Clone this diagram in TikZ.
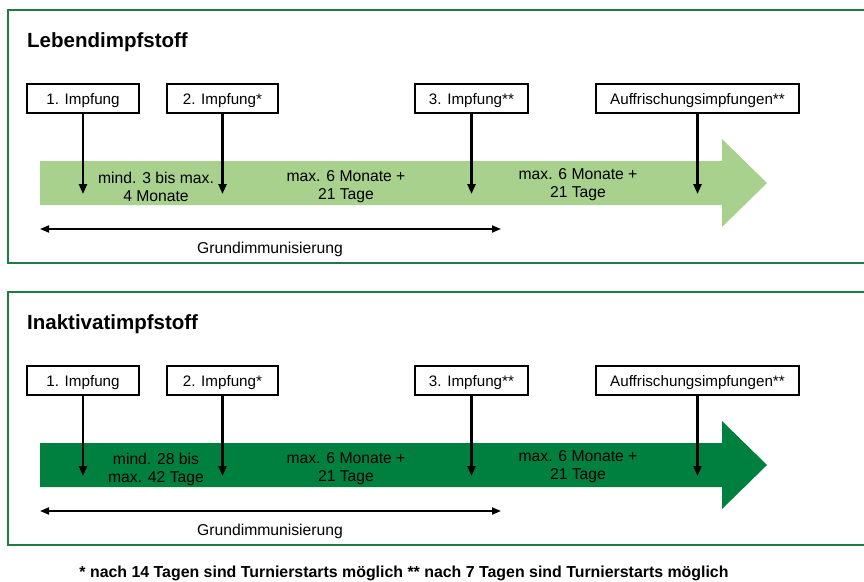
\documentclass[tikz,border=0pt]{standalone}
\usepackage{fontspec}
\setmainfont{Liberation Sans}
\usetikzlibrary{arrows.meta}
\definecolor{framegreen}{HTML}{1E7B45}
\definecolor{lightband}{HTML}{A9D18E}
\definecolor{darkband}{HTML}{00803F}

\begin{document}
\begin{tikzpicture}[x=1pt, y=1pt, font=\fontsize{15.7}{18}\selectfont,
  panel/.style={draw=framegreen, line width=2.2pt},
  title/.style={font=\fontsize{20.5}{24}\selectfont\bfseries, inner sep=0pt},
  dose/.style={draw, line width=2pt, fill=white, minimum height=29pt, inner sep=0pt, text height=11pt, text depth=0pt,
    font=\fontsize{15.2}{18}\selectfont},
  gap/.style={align=center, inner sep=0pt},
  hit/.style={-{Triangle[length=10pt,width=8pt]}, line width=2.3pt},
  span/.style={{Triangle[length=9pt,width=7pt]}-{Triangle[length=9pt,width=7pt]}, line width=1.8pt}]
\useasboundingbox (0,0) rectangle (864,-581);
% two panels, same layout, only band colour and first gap differ
\foreach \p/\oy/\band/\ttl/\first in {L/0/lightband/Lebendimpfstoff/{mind. 3 bis max.\\4 Monate},
                                      I/282/darkband/Inaktivatimpfstoff/{mind. 28 bis\\max. 42 Tage}} {
  \begin{scope}[yshift=-\oy pt]
    \draw[panel] (8,-10) rectangle (868,-263);
    \node[title, anchor=base west] (title-\p) at (27,-47) {\ttl};
    % the time band
    \fill[\band] (40,-161) -- (722,-161) -- (722,-139) -- (767,-183) -- (722,-227) -- (722,-205) -- (40,-205) -- cycle;
    \node[gap] (g1-\p) at (156,-187) {\first};
    \node[gap] (g2-\p) at (346,-187) {max. 6 Monate +\\21 Tage};
    \node[gap] (g3-\p) at (578,-185) {max. 6 Monate +\\21 Tage};
    % the doses
    \node[dose, minimum width=112pt] (b1-\p) at (83,-98.5) {1. Impfung};
    \node[dose, minimum width=111pt] (b2-\p) at (222.5,-98.5) {2. Impfung*};
    \node[dose, minimum width=113pt] (b3-\p) at (471.5,-98.5) {3. Impfung**};
    \node[dose, minimum width=203pt] (b4-\p) at (697.5,-98.5) {Auffrischungsimpfungen**};
    \foreach \i in {1,...,4} {
      \path (b\i-\p.south) ++(0,-80) coordinate (t\i-\p);
      \draw[hit] (b\i-\p) -- (t\i-\p);
    }
    % basic immunisation span
    \coordinate (gl-\p) at (40,-229);
    \coordinate (gr-\p) at (501,-229);
    \draw[span] (gl-\p) -- (gr-\p);
    \node[anchor=base, inner sep=0pt] (gi-\p) at (270,-253) {Grundimmunisierung};
  \end{scope}
}
\node[anchor=base, inner sep=0pt, font=\fontsize{15.9}{18}\selectfont\bfseries] (note) at (404,-577)
  {* nach 14 Tagen sind Turnierstarts möglich ** nach 7 Tagen sind Turnierstarts möglich};
\end{tikzpicture}
\end{document}
